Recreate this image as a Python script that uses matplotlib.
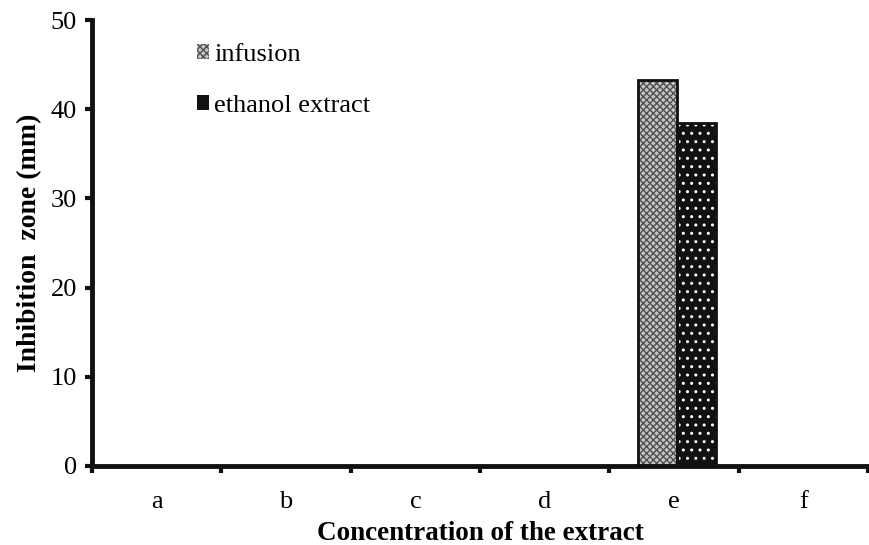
import numpy as np
import matplotlib.pyplot as plt
from matplotlib.patches import Patch

plt.rcParams['font.family'] = ['Liberation Serif', 'DejaVu Serif']

categories = ['a', 'b', 'c', 'd', 'e', 'f']
infusion = [0, 0, 0, 0, 43.3, 0]
ethanol = [0, 0, 0, 0, 38.5, 0]

fig = plt.figure(figsize=(8.69, 5.45), dpi=100)
ax = fig.add_axes([0.106, 0.145, 0.893, 0.818])

x = np.arange(len(categories))
w = 0.3
# hatch colour comes from edgecolor, then redraw outlines in black
ax.bar(x - w / 2 + 0.02, infusion, w, color='#c4c4c4', edgecolor='#505050', hatch='xxxxx', linewidth=0)
ax.bar(x + w / 2 + 0.02, ethanol, w, color='#111111', edgecolor='white', hatch='..', linewidth=0)
ax.bar(x - w / 2 + 0.02, infusion, w, fill=False, edgecolor='#111111', linewidth=2)
ax.bar(x + w / 2 + 0.02, ethanol, w, fill=False, edgecolor='#111111', linewidth=2)

ax.set_xlim(-0.5, len(categories) - 0.5)
ax.set_ylim(0, 50)
ax.set_yticks([0, 10, 20, 30, 40, 50])
ax.set_xticks(x)
ax.set_xticklabels(categories)
ax.set_xticks(np.arange(len(categories) + 1) - 0.5, minor=True)
ax.tick_params(axis='x', which='major', length=0, pad=18, labelsize=19)
ax.tick_params(axis='x', which='minor', length=5, width=3, direction='out', color='#111111')
ax.tick_params(axis='y', length=5, width=3, direction='out', color='#111111', labelsize=19, pad=6)

for s in ['top', 'right']:
    ax.spines[s].set_visible(False)
for s in ['left', 'bottom']:
    ax.spines[s].set_linewidth(3.5)
    ax.spines[s].set_color('#111111')

ax.set_ylabel('Inhibition  zone (mm)', fontsize=20, fontweight='bold', labelpad=6)
ax.set_xlabel('Concentration of the extract', fontsize=19.5, fontweight='bold', labelpad=6)

handles = [Patch(facecolor='#c4c4c4', edgecolor='#505050', hatch='xxxxx', linewidth=0),
           Patch(facecolor='#111111', edgecolor='#111111', linewidth=0)]
ax.legend(handles, ['infusion', 'ethanol extract'], loc='upper left', bbox_to_anchor=(0.105, 1.0),
          frameon=False, fontsize=19, handlelength=0.45, handleheight=0.45, handletextpad=0.2,
          labelspacing=1.1)

fig.savefig('out.png', dpi=100)
